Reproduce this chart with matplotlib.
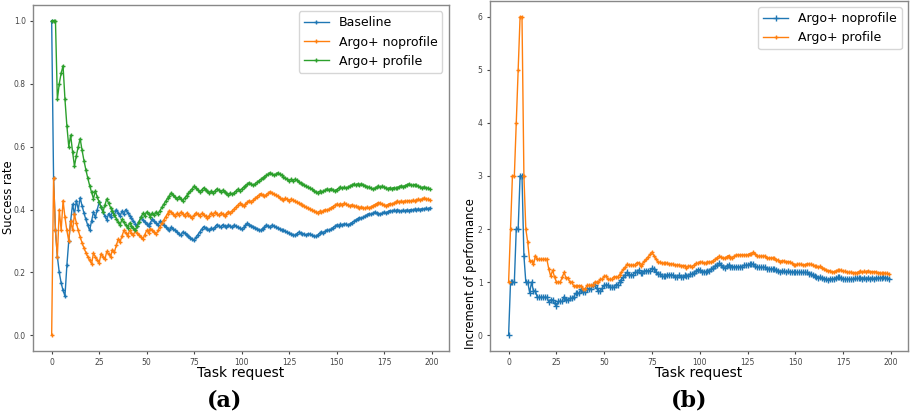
import numpy as np
import matplotlib
matplotlib.use("Agg")
import matplotlib.pyplot as plt

# 200 task requests, indices of the tasks each method served successfully
n_tasks = 200
baseline_success = [0, 8, 9, 10, 11, 13, 15, 21, 22, 24, 25, 30, 32, 34, 37, 39, 46, 47,
                    52, 53, 57, 63, 69, 76, 77, 78, 79, 80, 84, 86, 87, 90, 93, 96,
                    101, 102, 103, 111, 112, 113, 116, 129, 130, 135, 140, 141, 142, 144,
                    145, 147, 148, 149, 150, 152, 154, 157, 158, 159, 160, 161, 162, 164,
                    165, 166, 167, 169, 170, 174, 175, 177, 178, 180, 182, 185, 187, 189,
                    191, 193, 195, 197, 199]
noprofile_success = [1, 4, 6, 10, 12, 22, 26, 29, 32, 34, 35, 37, 38, 41, 44, 49, 50, 52,
                     56, 57, 58, 59, 60, 61, 62, 66, 68, 71, 75, 76, 79, 83, 84, 86, 89,
                     92, 93, 95, 96, 97, 98, 99, 102, 103, 104, 106, 107, 108, 109, 110,
                     113, 114, 115, 123, 126, 141, 143, 144, 146, 147, 148, 149, 150, 152,
                     154, 158, 163, 166, 168, 169, 170, 171, 172, 177, 178, 180, 181, 182,
                     184, 186, 188, 190, 192, 193, 195, 196]
profile_success = [0, 1, 2, 4, 5, 6, 10, 13, 14, 15, 23, 28, 29, 37, 41, 45, 46, 47, 48,
                   50, 53, 55, 57, 58, 59, 60, 61, 62, 63, 67, 70, 71, 72, 73, 74, 75, 79,
                   80, 84, 86, 87, 90, 94, 96, 97, 98, 100, 101, 102, 103, 104, 107, 108,
                   109, 110, 111, 112, 113, 114, 115, 118, 119, 126, 128, 141, 143, 144,
                   145, 147, 150, 151, 152, 154, 156, 157, 158, 159, 161, 163, 170, 171,
                   172, 174, 178, 180, 182, 183, 184, 186, 187, 188, 191, 196]


def success_rate(success_idx):
    hits = np.zeros(n_tasks)
    hits[success_idx] = 1
    return np.cumsum(hits) / np.arange(1, n_tasks + 1)


tasks = np.arange(n_tasks)
rate_base = success_rate(baseline_success)
rate_noprof = success_rate(noprofile_success)
rate_prof = success_rate(profile_success)

fig = plt.figure(figsize=(9.1, 4.17), dpi=100)
ax1 = fig.add_axes([0.036, 0.158, 0.457, 0.830])
ax2 = fig.add_axes([0.538, 0.158, 0.460, 0.840])

ax1.plot(tasks, rate_base, marker="+", markersize=2.5, lw=1, color="#1f77b4", label="Baseline")
ax1.plot(tasks, rate_noprof, marker="+", markersize=2.5, lw=1, color="#ff7f0e", label="Argo+ noprofile")
ax1.plot(tasks, rate_prof, marker="+", markersize=2.5, lw=1, color="#2ca02c", label="Argo+ profile")
ax1.set_ylabel("Success rate", fontsize=8.3)
ax1.yaxis.set_label_coords(-0.042, 0.445)
ax1.set_xlabel("Task request", fontsize=10, labelpad=-1)
ax1.legend(loc="upper right", fontsize=9)

ax2.plot(tasks, rate_noprof / rate_base, marker="+", markersize=5, lw=1, color="#1f77b4",
         label="Argo+ noprofile")
ax2.plot(tasks, rate_prof / rate_base, marker="+", markersize=3.5, lw=1, color="#ff7f0e",
         label="Argo+ profile")
ax2.set_ylabel("Increment of performance", fontsize=8.3)
ax2.yaxis.set_label_coords(-0.03, 0.22)
ax2.set_xlabel("Task request", fontsize=10, labelpad=-1)
ax2.legend(loc="upper right", fontsize=9)

for ax in (ax1, ax2):
    ax.set_xticks(range(0, 201, 25))
    ax.tick_params(labelsize=5.5, length=2, colors="#444444", pad=3)
    for sp in ax.spines.values():
        sp.set_color("#888888")
        sp.set_linewidth(1)
ax1.set_yticks([0.0, 0.2, 0.4, 0.6, 0.8, 1.0])

fig.text(0.247, 0.04, "(a)", ha="center", va="center", fontsize=16, fontweight="bold",
         family="DejaVu Serif")
fig.text(0.757, 0.04, "(b)", ha="center", va="center", fontsize=16, fontweight="bold",
         family="DejaVu Serif")

fig.savefig("out.png", dpi=100)
